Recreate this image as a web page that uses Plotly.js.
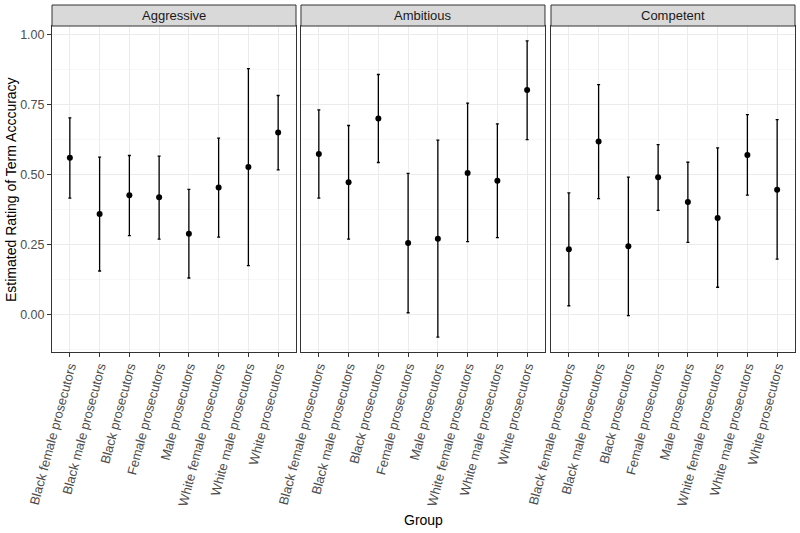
<!DOCTYPE html>
<html>
<head>
<meta charset="utf-8">
<script src="https://cdn.plot.ly/plotly-3.0.1.min.js"></script>
<style>html,body{margin:0;padding:0;background:#fff;}#chart{width:800px;height:533px;}</style>
</head>
<body>
<div id="chart"></div>
<script>
const groups = ["Black female prosecutors","Black male prosecutors","Black prosecutors","Female prosecutors","Male prosecutors","White female prosecutors","White male prosecutors","White prosecutors"];
const panels = ["Aggressive","Ambitious","Competent"];

const aggressiveEst  = [0.559,0.358,0.425,0.418,0.288,0.453,0.526,0.649];
const aggressiveLow  = [0.415,0.155,0.281,0.269,0.130,0.276,0.174,0.516];
const aggressiveHigh = [0.701,0.561,0.567,0.565,0.446,0.629,0.877,0.781];

const ambitiousEst  = [0.572,0.472,0.699,0.255,0.270,0.505,0.477,0.801];
const ambitiousLow  = [0.415,0.269,0.542,0.006,-0.081,0.260,0.274,0.624];
const ambitiousHigh = [0.730,0.674,0.856,0.503,0.622,0.754,0.680,0.976];

const competentEst  = [0.233,0.617,0.243,0.489,0.401,0.344,0.569,0.445];
const competentLow  = [0.031,0.413,-0.004,0.371,0.257,0.097,0.426,0.197];
const competentHigh = [0.434,0.820,0.490,0.606,0.543,0.594,0.713,0.695];

const est  = [aggressiveEst, ambitiousEst, competentEst];
const low  = [aggressiveLow, ambitiousLow, competentLow];
const high = [aggressiveHigh, ambitiousHigh, competentHigh];

const FONT = "Liberation Sans, Arial, Helvetica, sans-serif";
const traces = panels.map((p, i) => ({
  type: "scatter",
  mode: "markers",
  x: groups,
  y: est[i],
  xaxis: i === 0 ? "x" : "x" + (i + 1),
  yaxis: i === 0 ? "y" : "y" + (i + 1),
  marker: {color: "#000000", size: 6},
  error_y: {
    type: "data", symmetric: false,
    array: high[i].map((h, k) => h - est[i][k]),
    arrayminus: low[i].map((l, k) => est[i][k] - l),
    color: "#000000", thickness: 1.3, width: 1.5
  },
  showlegend: false,
  hoverinfo: "skip"
}));

const domains = [[0, 0.3284], [0.3351, 0.6635], [0.6716, 1]];
const yRange = [-0.134, 1.029];
const layout = {
  width: 800, height: 533,
  margin: {l: 52, r: 5, t: 26, b: 181},
  paper_bgcolor: "#ffffff", plot_bgcolor: "#ffffff",
  font: {family: FONT, size: 13, color: "#4D4D4D"},
  shapes: [], annotations: []
};
panels.forEach((p, i) => {
  const xs = i === 0 ? "" : String(i + 1);
  layout["xaxis" + xs] = {
    domain: domains[i], anchor: "y" + xs, type: "category",
    categoryorder: "array", categoryarray: groups,
    range: [-0.6, 7.6], tickangle: -75,
    showgrid: true, gridcolor: "#EBEBEB", gridwidth: 1,
    showline: true, linecolor: "#333333", linewidth: 1, mirror: true,
    ticks: "outside", ticklen: 4, tickcolor: "#333333", tickwidth: 1,
    ticklabelstandoff: -3,
    tickfont: {family: FONT, size: 13, color: "#4D4D4D"},
    zeroline: false, fixedrange: true
  };
  layout["yaxis" + xs] = {
    domain: [0, 1], anchor: "x" + xs, range: yRange,
    tickvals: [0, 0.25, 0.5, 0.75, 1.0],
    ticktext: ["0.00", "0.25", "0.50", "0.75", "1.00"],
    showticklabels: i === 0,
    ticks: i === 0 ? "outside" : "", ticklen: 4, tickcolor: "#333333", tickwidth: 1,
    showgrid: true, gridcolor: "#EBEBEB", gridwidth: 1,
    minor: {tickvals: [-0.125, 0.125, 0.375, 0.625, 0.875], showgrid: true, gridcolor: "#F2F2F2", gridwidth: 0.6},
    showline: true, linecolor: "#333333", linewidth: 1, mirror: true,
    tickfont: {family: FONT, size: 12.5, color: "#4D4D4D"},
    zeroline: false, fixedrange: true
  };
  layout.shapes.push({
    type: "rect", xref: "paper", yref: "paper",
    x0: domains[i][0], x1: domains[i][1], y0: 1.0, y1: 1.0644,
    fillcolor: "#D9D9D9", line: {color: "#333333", width: 1}
  });
  layout.annotations.push({
    text: p, xref: "paper", yref: "paper",
    x: (domains[i][0] + domains[i][1]) / 2, y: 1.0322,
    xanchor: "center", yanchor: "middle", showarrow: false,
    font: {family: FONT, size: 13, color: "#1A1A1A"}
  });
});
layout.annotations.push({
  text: "Group", xref: "paper", yref: "paper", x: 0.5, y: -0.515,
  xanchor: "center", yanchor: "middle", showarrow: false,
  font: {family: FONT, size: 14, color: "#000000"}
});
layout.annotations.push({
  text: "Estimated Rating of Term Acccuracy", xref: "paper", yref: "paper",
  x: -0.0552, y: 0.5, textangle: -90,
  xanchor: "center", yanchor: "middle", showarrow: false,
  font: {family: FONT, size: 14, color: "#000000"}
});

Plotly.newPlot("chart", traces, layout, {displayModeBar: false, staticPlot: true});
</script>
</body>
</html>
